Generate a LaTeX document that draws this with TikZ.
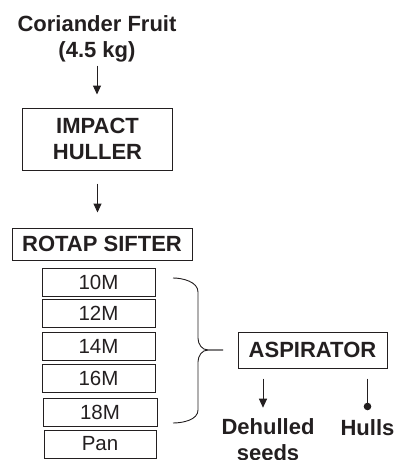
\documentclass[tikz,border=0pt]{standalone}
\usepackage{fontspec}
\setmainfont{Liberation Sans}
\usetikzlibrary{arrows.meta}
\definecolor{ink}{RGB}{35,31,32}
\begin{document}
\begin{tikzpicture}[x=1pt,y=-1pt,
  every node/.style={text=ink},
  bold/.style={font=\fontsize{22}{26}\selectfont\bfseries, align=center, inner sep=0pt},
  boxb/.style={draw=ink, line width=1pt, font=\fontsize{22}{26}\selectfont\bfseries, align=center, inner sep=0pt},
  sieve/.style={draw=ink, line width=1pt, font=\fontsize{20.5}{24}\selectfont, inner sep=0pt, minimum height=28pt},
  arr/.style={draw=ink, line width=1pt, -{Triangle[length=9pt,width=8pt]}},
  brc/.style={draw=ink, line width=0.9pt},
  dot/.style={draw=ink, line width=1pt, -{Circle[length=7.5pt]}}
]
\useasboundingbox (0,0) rectangle (394,460);

\node[bold] (cor) at (97,38.8) {Coriander Fruit\\(4.5 kg)};
\node[boxb, minimum width=150pt, minimum height=62pt] (imp) at (97.5,139) {IMPACT\\HULLER};
\node[boxb, minimum width=180pt, minimum height=32pt] (rot) at (102,244) {ROTAP SIFTER};

\node[sieve, minimum width=113pt] (s10) at (98.5,282) {10M};
\node[sieve, minimum width=113pt] (s12) at (98.5,313.5) {12M};
\node[sieve, minimum width=113pt] (s14) at (98.5,346) {14M};
\node[sieve, minimum width=113pt] (s16) at (98.5,378) {16M};
\node[sieve, minimum width=114pt] (s18) at (100,412) {18M};
\node[sieve, minimum width=112pt] (pan) at (100,444) {Pan};

\node[boxb, minimum width=149pt, minimum height=36pt] (asp) at (312.5,350) {ASPIRATOR};
\node[bold] (deh) at (268,440) {Dehulled\\seeds};
\node[bold] (hul) at (367.5,427.5) {Hulls};

\draw[arr, shorten <=3.4pt, shorten >=13pt] (cor.south) -- (cor.south |- imp.north);
\draw[arr, shorten <=13pt, shorten >=15pt] (imp.south) -- (imp.south |- rot.north);

\coordinate (btop) at (173,278);
\coordinate (bbot) at (173,423);
\coordinate (btip) at (223,350);
\draw[brc] (btop) to[out=0,in=90,looseness=0.9] (198,292) -- (198,338)
  to[out=-90,in=180] (208,350) -- (btip);
\draw[brc] (btip) -- (208,350) to[out=180,in=90] (198,362) -- (198,410)
  to[out=-90,in=0,looseness=0.9] (bbot);

\coordinate (dx) at (263,0);
\draw[arr, shorten <=10pt, shorten >=11pt] (asp.south -| dx) -- (deh.north -| dx);
\draw[dot, shorten <=10pt, shorten >=9pt] (asp.south -| hul.north) -- (hul.north);
\end{tikzpicture}
\end{document}
